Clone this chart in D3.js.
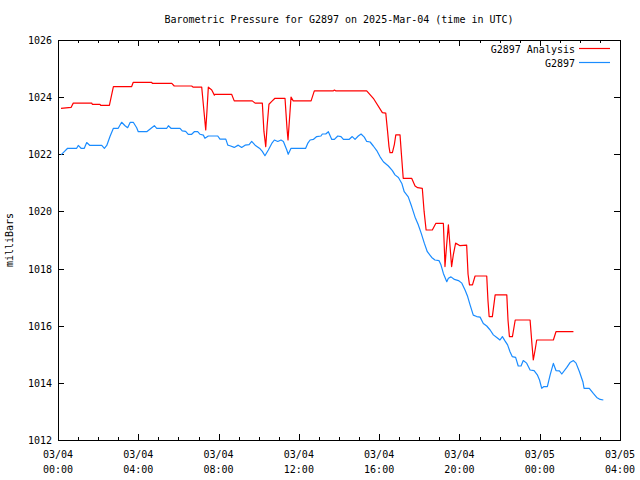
<!DOCTYPE html>
<html><head><meta charset="utf-8">
<script src="https://cdn.jsdelivr.net/npm/d3@7"></script>
<style>
body{margin:0;background:#fff}
text{font-family:"DejaVu Sans Mono",monospace;font-size:10px;fill:#000}
</style>
</head><body>
<svg id="chart" width="640" height="480"></svg>
<script>
// hours since 2025-03-04 00:00 UTC
const analysisHours = [0.15,0.65,0.76,1.68,1.71,2.09,2.13,2.56,2.76,3.67,3.75,4.67,4.70,5.67,5.79,6.66,6.74,7.16,7.22,7.36,7.42,7.49,7.66,7.79,7.82,8.65,8.78,9.68,9.82,10.18,10.26,10.35,10.42,10.51,10.65,10.81,11.31,11.41,11.46,11.56,11.61,11.72,12.61,12.77,13.72,13.77,13.83,15.38,15.71,16.16,16.33,16.42,16.49,16.54,16.66,16.76,16.83,17.04,17.11,17.20,17.62,17.79,17.92,18.15,18.24,18.34,18.65,18.82,19.20,19.26,19.28,19.36,19.45,19.53,19.61,19.70,19.81,20.03,20.36,20.43,20.50,20.65,20.78,21.36,21.42,21.48,21.64,21.78,22.36,22.42,22.49,22.64,22.78,23.52,23.62,23.68,23.77,23.85,24.68,24.81,25.68];
const analysisValues = [1023.61,1023.64,1023.79,1023.79,1023.75,1023.75,1023.71,1023.71,1024.37,1024.37,1024.52,1024.52,1024.48,1024.48,1024.39,1024.39,1024.35,1024.35,1023.90,1022.85,1023.50,1024.35,1024.25,1024.07,1024.10,1024.10,1023.87,1023.87,1023.79,1023.79,1022.80,1022.27,1023.00,1023.75,1023.85,1023.96,1023.96,1022.90,1022.50,1023.50,1024.00,1023.87,1023.87,1024.22,1024.22,1024.25,1024.22,1024.22,1023.96,1023.46,1023.44,1022.80,1022.27,1022.06,1022.06,1022.35,1022.68,1022.68,1022.00,1021.16,1021.16,1020.89,1020.83,1020.81,1020.00,1019.35,1019.35,1019.58,1019.58,1018.50,1018.07,1018.80,1019.53,1018.80,1018.07,1018.50,1018.89,1018.80,1018.82,1017.80,1017.43,1017.43,1017.74,1017.74,1016.90,1016.32,1016.32,1017.08,1017.08,1016.20,1015.62,1015.62,1016.20,1016.20,1015.30,1014.80,1015.15,1015.50,1015.50,1015.79,1015.79];

const stationHours = [0.15,0.25,0.48,0.93,1.01,1.15,1.31,1.43,1.59,2.18,2.31,2.43,2.59,2.76,3.00,3.17,3.34,3.47,3.60,3.75,3.92,4.00,4.42,4.67,4.80,4.92,5.42,5.50,5.63,6.08,6.19,6.36,6.49,6.66,6.79,6.96,7.08,7.24,7.32,7.49,7.96,8.07,8.36,8.46,8.57,8.78,8.98,9.15,9.32,9.52,9.65,9.82,10.07,10.18,10.31,10.48,10.65,10.78,10.95,11.11,11.23,11.40,11.47,11.61,12.34,12.44,12.56,12.72,12.89,13.10,13.17,13.34,13.47,13.64,13.77,13.94,14.10,14.22,14.50,14.66,14.80,14.96,15.10,15.26,15.38,15.55,15.71,15.88,16.04,16.21,16.46,16.66,16.79,16.96,17.13,17.25,17.45,17.62,17.79,17.94,18.09,18.25,18.40,18.62,18.78,18.98,19.08,19.20,19.37,19.45,19.58,19.75,19.95,20.12,20.28,20.41,20.53,20.69,20.86,21.03,21.19,21.36,21.53,21.69,21.86,22.02,22.14,22.27,22.40,22.52,22.63,22.80,22.93,23.07,23.18,23.35,23.52,23.72,23.88,23.99,24.10,24.21,24.38,24.52,24.68,24.81,24.98,25.10,25.35,25.51,25.68,25.81,25.98,26.15,26.21,26.47,26.67,26.84,27.01,27.17];
const stationValues = [1021.98,1022.05,1022.21,1022.21,1022.31,1022.21,1022.21,1022.41,1022.31,1022.31,1022.21,1022.31,1022.62,1022.91,1022.91,1023.12,1023.00,1022.93,1023.12,1023.12,1022.93,1022.79,1022.79,1022.93,1023.00,1022.91,1022.91,1023.00,1022.91,1022.91,1022.82,1022.80,1022.70,1022.70,1022.79,1022.79,1022.70,1022.67,1022.56,1022.64,1022.64,1022.53,1022.53,1022.32,1022.30,1022.24,1022.32,1022.24,1022.32,1022.34,1022.45,1022.32,1022.19,1022.10,1021.95,1022.15,1022.38,1022.50,1022.45,1022.50,1022.45,1022.15,1022.00,1022.21,1022.21,1022.38,1022.50,1022.52,1022.62,1022.64,1022.71,1022.71,1022.79,1022.52,1022.52,1022.64,1022.62,1022.52,1022.52,1022.62,1022.52,1022.64,1022.71,1022.60,1022.45,1022.43,1022.29,1022.13,1021.92,1021.74,1021.59,1021.43,1021.28,1021.19,1020.98,1020.69,1020.51,1020.17,1019.80,1019.55,1019.25,1018.89,1018.59,1018.39,1018.30,1018.28,1018.13,1017.83,1017.54,1017.66,1017.71,1017.62,1017.58,1017.49,1017.25,1017.02,1016.73,1016.37,1016.32,1016.30,1016.08,1015.99,1015.85,1015.68,1015.59,1015.50,1015.62,1015.47,1015.33,1015.09,1014.92,1014.89,1014.59,1014.59,1014.78,1014.69,1014.45,1014.43,1014.28,1014.10,1013.81,1013.87,1013.87,1014.28,1014.68,1014.43,1014.42,1014.31,1014.54,1014.71,1014.78,1014.69,1014.39,1014.04,1013.81,1013.81,1013.63,1013.49,1013.42,1013.40];

const yTickValues = [1012,1014,1016,1018,1020,1022,1024,1026];
const xTickHours = [0,4,8,12,16,20,24,28];
const seriesNames = ["G2897 Analysis","G2897"];
const seriesColors = ["#ff0000","#1a8cff"];
const titleText = "Barometric Pressure for G2897 on 2025-Mar-04 (time in UTC)";
const yLabel = "milliBars";

const t0 = Date.UTC(2025,2,4,0,0);
const toDate = h => new Date(t0 + h*3600e3);

const L=58,R=620,T=40,B=440;
const svg = d3.select("#chart");
const x = d3.scaleUtc().domain([toDate(0),toDate(28)]).range([L,R]);
const y = d3.scaleLinear().domain([1012,1026]).range([B,T]);

svg.append("rect").attr("width",640).attr("height",480).attr("fill","#fff");

const xMajor = xTickHours.map(toDate);
const xMinor = d3.range(0,29,1).filter(h=>h%4!==0).map(toDate);

function axisStyle(g){ g.select(".domain").remove(); g.selectAll("line").attr("stroke","#000").attr("shape-rendering","crispEdges"); g.selectAll("text").remove(); }

// bottom & top ticks (inward)
svg.append("g").attr("transform",`translate(0,${B})`).call(d3.axisBottom(x).tickValues(xMajor).tickSize(-6)).call(axisStyle);
svg.append("g").attr("transform",`translate(0,${B})`).call(d3.axisBottom(x).tickValues(xMinor).tickSize(-3)).call(axisStyle);
svg.append("g").attr("transform",`translate(0,${T})`).call(d3.axisTop(x).tickValues(xMajor).tickSize(-6)).call(axisStyle);
svg.append("g").attr("transform",`translate(0,${T})`).call(d3.axisTop(x).tickValues(xMinor).tickSize(-3)).call(axisStyle);
// left & right ticks
svg.append("g").attr("transform",`translate(${L},0)`).call(d3.axisLeft(y).tickValues(yTickValues).tickSize(-6)).call(axisStyle);
svg.append("g").attr("transform",`translate(${R},0)`).call(d3.axisRight(y).tickValues(yTickValues).tickSize(-6)).call(axisStyle);

// frame
svg.append("rect").attr("x",L+0.5).attr("y",T+0.5).attr("width",R-L).attr("height",B-T)
  .attr("fill","none").attr("stroke","#000").attr("stroke-width",1);

// y tick labels
svg.append("g").selectAll("text").data(yTickValues).join("text")
  .attr("x",L-6).attr("y",d=>y(d)+4).attr("text-anchor","end").text(d=>d);

// x tick labels
const fDay = d3.utcFormat("%m/%d"), fTime = d3.utcFormat("%H:%M");
const xl = svg.append("g").selectAll("text").data(xMajor).join("text")
  .attr("text-anchor","middle");
xl.append("tspan").attr("x",d=>x(d)).attr("y",458).text(d=>fDay(d));
xl.append("tspan").attr("x",d=>x(d)).attr("y",473).text(d=>fTime(d));

// title
svg.append("text").attr("x",339).attr("y",23).attr("text-anchor","middle").text(titleText);
// y label
svg.append("text").attr("transform","translate(13,240) rotate(-90)").attr("text-anchor","middle").text(yLabel);

// lines
const line = d3.line().x(d=>x(d[0])).y(d=>y(d[1]));
const analysis = analysisHours.map((h,i)=>[toDate(h),analysisValues[i]]);
const station = stationHours.map((h,i)=>[toDate(h),stationValues[i]]);
[analysis,station].forEach((data,i)=>{
  svg.append("path").datum(data).attr("d",line).attr("fill","none")
    .attr("stroke",seriesColors[i]).attr("stroke-width",1.2).attr("stroke-linejoin","round");
});

// legend
seriesNames.forEach((n,i)=>{
  const ly = 49 + i*14;
  svg.append("text").attr("x",575).attr("y",ly+4).attr("text-anchor","end").text(n);
  svg.append("line").attr("x1",579).attr("x2",610).attr("y1",ly-0.5).attr("y2",ly-0.5)
    .attr("stroke",seriesColors[i]).attr("stroke-width",1.2);
});
</script>
</body></html>
